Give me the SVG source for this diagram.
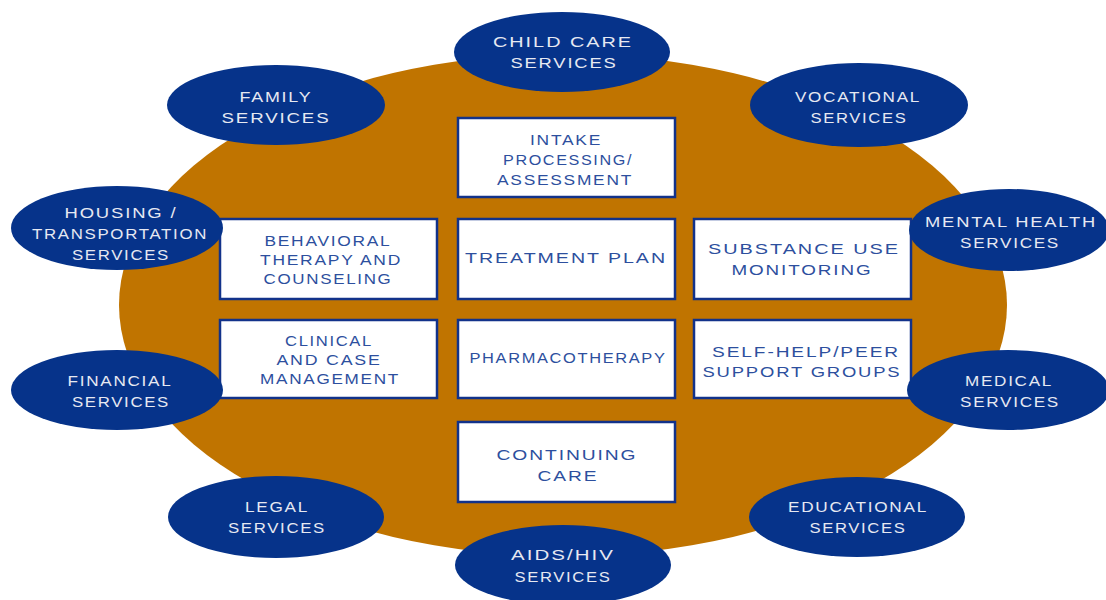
<svg xmlns="http://www.w3.org/2000/svg" width="1106" height="600" viewBox="0 0 1106 600">
<style>
.bg{fill:#c07400}
.ov{fill:#06338a}
.bx{fill:#ffffff;stroke:#12328a;stroke-width:2.5}
text{font-family:"Liberation Sans",Arial,sans-serif;font-size:15px;letter-spacing:1.5px;text-transform:uppercase;text-anchor:middle;dominant-baseline:central}
.ot{fill:#e6e9f2}
.bt{fill:#2d4f9e}
</style>
<rect width="1106" height="600" fill="#ffffff"/>
<ellipse class="bg" cx="563" cy="305" rx="444" ry="251"/>
<g id="connectors"></g>
<g id="intake"><rect class="bx" x="458" y="118" width="217" height="79"/>
<text class="bt" x="566" y="139" textLength="72" lengthAdjust="spacingAndGlyphs">Intake</text>
<text class="bt" x="568" y="159" textLength="130" lengthAdjust="spacingAndGlyphs">Processing/</text>
<text class="bt" x="565" y="179" textLength="136" lengthAdjust="spacingAndGlyphs">Assessment</text></g>
<g id="treatment"><rect class="bx" x="458" y="219" width="217" height="80"/>
<text class="bt" x="566" y="257" textLength="202" lengthAdjust="spacingAndGlyphs">Treatment Plan</text></g>
<g id="pharmaco"><rect class="bx" x="458" y="320" width="217" height="78"/>
<text class="bt" x="568" y="357" textLength="197" lengthAdjust="spacingAndGlyphs">Pharmacotherapy</text></g>
<g id="continuing"><rect class="bx" x="458" y="422" width="217" height="80"/>
<text class="bt" x="567" y="454" textLength="141" lengthAdjust="spacingAndGlyphs">Continuing</text>
<text class="bt" x="568" y="475" textLength="61" lengthAdjust="spacingAndGlyphs">Care</text></g>
<g id="behavioral"><rect class="bx" x="220" y="219" width="217" height="80"/>
<text class="bt" x="328" y="240" textLength="127" lengthAdjust="spacingAndGlyphs">Behavioral</text>
<text class="bt" x="331" y="259" textLength="142" lengthAdjust="spacingAndGlyphs">Therapy and</text>
<text class="bt" x="328" y="278" textLength="129" lengthAdjust="spacingAndGlyphs">Counseling</text></g>
<g id="clinical"><rect class="bx" x="220" y="320" width="217" height="78"/>
<text class="bt" x="329" y="340" textLength="88" lengthAdjust="spacingAndGlyphs">Clinical</text>
<text class="bt" x="329" y="359" textLength="105" lengthAdjust="spacingAndGlyphs">and Case</text>
<text class="bt" x="330" y="378" textLength="140" lengthAdjust="spacingAndGlyphs">Management</text></g>
<g id="substance"><rect class="bx" x="694" y="219" width="217" height="80"/>
<text class="bt" x="804" y="248" textLength="192" lengthAdjust="spacingAndGlyphs">Substance Use</text>
<text class="bt" x="802" y="269" textLength="141" lengthAdjust="spacingAndGlyphs">Monitoring</text></g>
<g id="selfhelp"><rect class="bx" x="694" y="320" width="217" height="78"/>
<text class="bt" x="806" y="351" textLength="188" lengthAdjust="spacingAndGlyphs">Self-Help/Peer</text>
<text class="bt" x="802" y="371" textLength="199" lengthAdjust="spacingAndGlyphs">Support Groups</text></g>
<g id="childcare"><ellipse class="ov" cx="562" cy="52" rx="108" ry="40"/>
<text class="ot" x="563" y="41" textLength="140" lengthAdjust="spacingAndGlyphs">Child Care</text>
<text class="ot" x="564" y="62" textLength="107" lengthAdjust="spacingAndGlyphs">Services</text></g>
<g id="family"><ellipse class="ov" cx="276" cy="105" rx="109" ry="40"/>
<text class="ot" x="276" y="96" textLength="73" lengthAdjust="spacingAndGlyphs">Family</text>
<text class="ot" x="276" y="117" textLength="109" lengthAdjust="spacingAndGlyphs">Services</text></g>
<g id="vocational"><ellipse class="ov" cx="859" cy="105" rx="109" ry="42"/>
<text class="ot" x="858" y="96" textLength="126" lengthAdjust="spacingAndGlyphs">Vocational</text>
<text class="ot" x="859" y="117" textLength="97" lengthAdjust="spacingAndGlyphs">Services</text></g>
<g id="housing"><ellipse class="ov" cx="117" cy="228" rx="106" ry="42"/>
<text class="ot" x="121" y="212" textLength="113" lengthAdjust="spacingAndGlyphs">Housing /</text>
<text class="ot" x="120" y="233" textLength="176" lengthAdjust="spacingAndGlyphs">Transportation</text>
<text class="ot" x="121" y="254" textLength="98" lengthAdjust="spacingAndGlyphs">Services</text></g>
<g id="mental"><ellipse class="ov" cx="1009" cy="230" rx="100" ry="41"/>
<text class="ot" x="1011" y="221" textLength="172" lengthAdjust="spacingAndGlyphs">Mental Health</text>
<text class="ot" x="1010" y="242" textLength="100" lengthAdjust="spacingAndGlyphs">Services</text></g>
<g id="financial"><ellipse class="ov" cx="117" cy="390" rx="106" ry="40"/>
<text class="ot" x="120" y="380" textLength="105" lengthAdjust="spacingAndGlyphs">Financial</text>
<text class="ot" x="121" y="401" textLength="98" lengthAdjust="spacingAndGlyphs">Services</text></g>
<g id="medical"><ellipse class="ov" cx="1008" cy="390" rx="101" ry="40"/>
<text class="ot" x="1009" y="380" textLength="88" lengthAdjust="spacingAndGlyphs">Medical</text>
<text class="ot" x="1010" y="401" textLength="100" lengthAdjust="spacingAndGlyphs">Services</text></g>
<g id="legal"><ellipse class="ov" cx="276" cy="517" rx="108" ry="41"/>
<text class="ot" x="277" y="506" textLength="64" lengthAdjust="spacingAndGlyphs">Legal</text>
<text class="ot" x="277" y="527" textLength="98" lengthAdjust="spacingAndGlyphs">Services</text></g>
<g id="educational"><ellipse class="ov" cx="857" cy="517" rx="108" ry="40"/>
<text class="ot" x="858" y="506" textLength="140" lengthAdjust="spacingAndGlyphs">Educational</text>
<text class="ot" x="858" y="527" textLength="97" lengthAdjust="spacingAndGlyphs">Services</text></g>
<g id="aids"><ellipse class="ov" cx="563" cy="565" rx="108" ry="40"/>
<text class="ot" x="563" y="554" textLength="104" lengthAdjust="spacingAndGlyphs">AIDS/HIV</text>
<text class="ot" x="563" y="576" textLength="97" lengthAdjust="spacingAndGlyphs">Services</text></g>
</svg>
